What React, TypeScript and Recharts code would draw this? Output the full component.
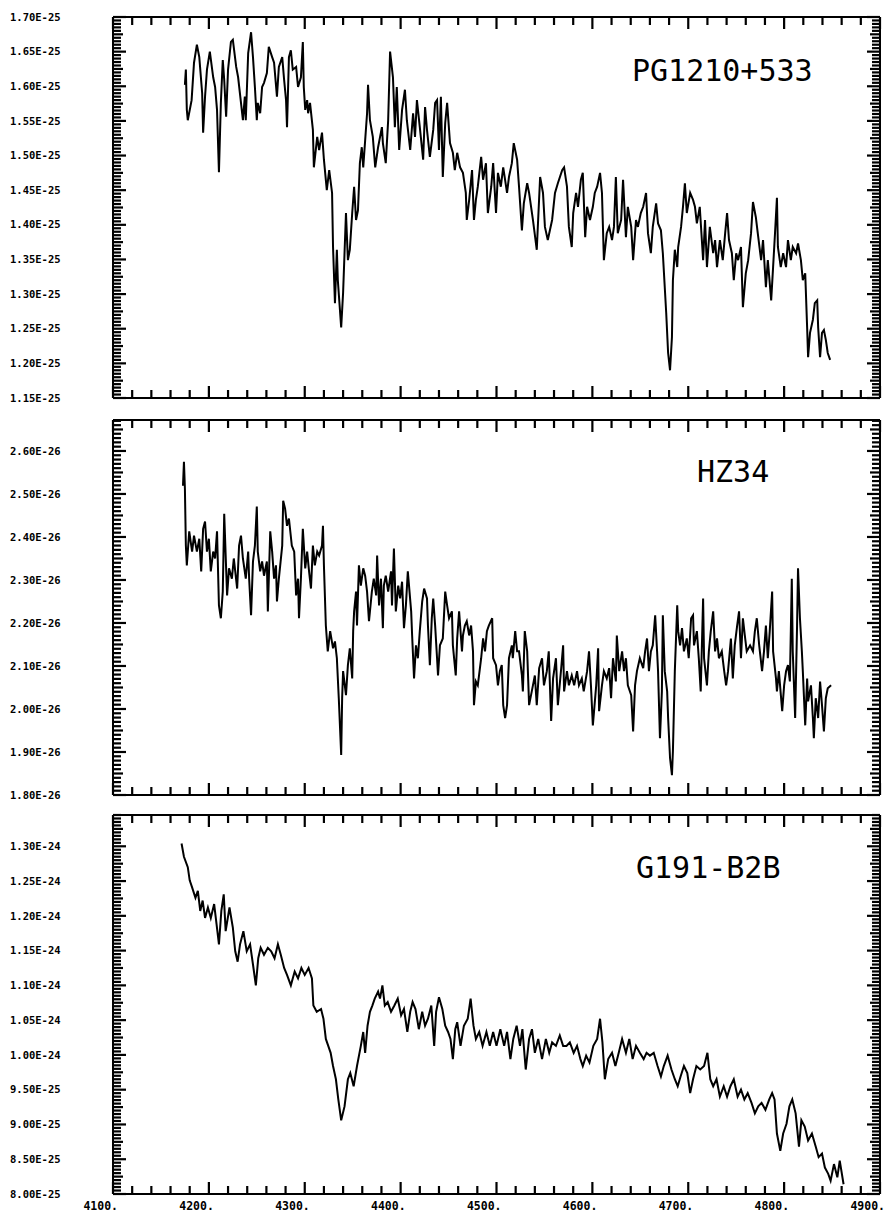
import React from 'react';
import { LineChart, Line, XAxis, YAxis, ReferenceLine } from 'recharts';

// ---------- axis ticks / labels ----------
const X_MAJOR = [4100, 4200, 4300, 4400, 4500, 4600, 4700, 4800, 4900];
const X_LABELS = ['4100.', '4200.', '4300.', '4400.', '4500.', '4600.', '4700.', '4800.', '4900.'];
const X_MINOR_STEP = 20;

const PG_TICKS = [1.15, 1.2, 1.25, 1.3, 1.35, 1.4, 1.45, 1.5, 1.55, 1.6, 1.65, 1.7];
const PG_LABELS = ['1.15E-25', '1.20E-25', '1.25E-25', '1.30E-25', '1.35E-25', '1.40E-25', '1.45E-25', '1.50E-25', '1.55E-25', '1.60E-25', '1.65E-25', '1.70E-25'];

const HZ_TICKS = [1.8, 1.9, 2.0, 2.1, 2.2, 2.3, 2.4, 2.5, 2.6];
const HZ_LABELS = ['1.80E-26', '1.90E-26', '2.00E-26', '2.10E-26', '2.20E-26', '2.30E-26', '2.40E-26', '2.50E-26', '2.60E-26'];

const G1_TICKS = [0.8, 0.85, 0.9, 0.95, 1.0, 1.05, 1.1, 1.15, 1.2, 1.25, 1.3];
const G1_LABELS = ['8.00E-25', '8.50E-25', '9.00E-25', '9.50E-25', '1.00E-24', '1.05E-24', '1.10E-24', '1.15E-24', '1.20E-24', '1.25E-24', '1.30E-24'];

// ---------- spectra: [wavelength (A), flux (in units of the panel's exponent)] ----------
// PG1210+533, flux x 1E-25
const PG1210: [number, number][] = [
  [4175, 1.602], [4176, 1.624], [4177, 1.566], [4178, 1.551], [4182, 1.58], [4184.5, 1.634], [4187.5, 1.66], [4190, 1.642],
  [4193, 1.59], [4194, 1.533], [4196, 1.585], [4198, 1.624], [4201, 1.65], [4204.5, 1.613], [4206.5, 1.599], [4208.5, 1.566],
  [4210.5, 1.476], [4212.5, 1.576], [4214.5, 1.638], [4216, 1.609], [4218, 1.556], [4220, 1.624], [4223, 1.664], [4225, 1.667],
  [4228.5, 1.628], [4230.5, 1.613], [4233.5, 1.576], [4235.5, 1.551], [4237.5, 1.585], [4238.5, 1.551], [4241, 1.648], [4244, 1.678],
  [4246, 1.642], [4248, 1.599], [4250, 1.551], [4251, 1.576], [4253.5, 1.561], [4255.5, 1.599], [4257.5, 1.605], [4260.5, 1.619],
  [4262.5, 1.657], [4266, 1.642], [4268, 1.634], [4271, 1.585], [4273, 1.628], [4276.5, 1.642], [4278.5, 1.609], [4280.5, 1.58],
  [4281.5, 1.541], [4283.5, 1.642], [4285.5, 1.652], [4287.5, 1.624], [4291, 1.628], [4293, 1.599], [4296, 1.613], [4298, 1.664],
  [4299, 1.599], [4300.5, 1.566], [4302.5, 1.58], [4303.5, 1.561], [4305.5, 1.576], [4308.5, 1.537], [4309.5, 1.483], [4313, 1.527],
  [4315, 1.508], [4318, 1.533], [4320, 1.494], [4323, 1.45], [4325.5, 1.479], [4328.5, 1.446], [4329.5, 1.368], [4331.5, 1.287],
  [4333.5, 1.364], [4334.5, 1.32], [4338, 1.252], [4340, 1.302], [4343, 1.417], [4345, 1.349], [4347, 1.364], [4349.5, 1.417],
  [4351.5, 1.455], [4353.5, 1.407], [4355.5, 1.421], [4357.5, 1.489], [4359.5, 1.512], [4361, 1.483], [4363, 1.522], [4365, 1.561],
  [4366, 1.602], [4368, 1.551], [4371, 1.527], [4373.5, 1.483], [4376.5, 1.512], [4380.5, 1.541], [4381.5, 1.518], [4384.5, 1.489],
  [4387, 1.551], [4389, 1.65], [4392, 1.613], [4394, 1.541], [4396, 1.599], [4398.5, 1.508], [4401.5, 1.566], [4404.5, 1.595],
  [4406.5, 1.551], [4410, 1.508], [4413, 1.561], [4415, 1.527], [4417, 1.58], [4420, 1.541], [4423.5, 1.494], [4425.5, 1.57],
  [4427.5, 1.537], [4430.5, 1.498], [4434, 1.537], [4436, 1.576], [4438, 1.58], [4440, 1.508], [4442, 1.585], [4444, 1.469],
  [4446.5, 1.547], [4448.5, 1.576], [4451.5, 1.518], [4454.5, 1.504], [4456.5, 1.479], [4459, 1.504], [4462, 1.483], [4465, 1.475],
  [4468, 1.446], [4469, 1.407], [4471.5, 1.436], [4474.5, 1.479], [4476.5, 1.407], [4478.5, 1.436], [4480.5, 1.455], [4484, 1.498],
  [4486, 1.465], [4489, 1.489], [4491, 1.417], [4494.5, 1.455], [4496.5, 1.489], [4499.5, 1.417], [4501.5, 1.475], [4504.5, 1.455],
  [4507, 1.483], [4511, 1.446], [4513, 1.469], [4516, 1.489], [4518, 1.518], [4521.5, 1.494], [4523.5, 1.455], [4526.5, 1.392],
  [4528.5, 1.431], [4532, 1.46], [4534, 1.446], [4538, 1.407], [4542, 1.364], [4545.5, 1.469], [4548.5, 1.446], [4550.5, 1.397],
  [4553.5, 1.378], [4558, 1.407], [4561, 1.446], [4564, 1.46], [4568.5, 1.479], [4570.5, 1.483], [4573.5, 1.455], [4575.5, 1.397],
  [4578.5, 1.368], [4580, 1.417], [4583, 1.446], [4585, 1.426], [4588, 1.465], [4590, 1.475], [4592.5, 1.382], [4594.5, 1.426],
  [4597.5, 1.407], [4600.5, 1.426], [4602.5, 1.446], [4605, 1.455], [4608, 1.475], [4610, 1.446], [4612, 1.349], [4615, 1.388],
  [4617.5, 1.397], [4620.5, 1.378], [4622.5, 1.397], [4624.5, 1.469], [4626.5, 1.388], [4630, 1.407], [4632, 1.465], [4635, 1.382],
  [4637, 1.426], [4640.5, 1.397], [4642.5, 1.349], [4645.5, 1.407], [4647.5, 1.397], [4650.5, 1.417], [4653, 1.426], [4656, 1.446],
  [4658, 1.388], [4661, 1.359], [4663, 1.397], [4666.5, 1.431], [4668.5, 1.402], [4671.5, 1.392], [4673.5, 1.359], [4677, 1.273],
  [4679, 1.215], [4681, 1.19], [4683, 1.238], [4684, 1.32], [4686, 1.364], [4688.5, 1.339], [4689.5, 1.368], [4692.5, 1.397],
  [4694.5, 1.426], [4696.5, 1.46], [4698.5, 1.417], [4702, 1.446], [4705, 1.436], [4707, 1.426], [4709, 1.402], [4712, 1.426],
  [4715.5, 1.349], [4717.5, 1.407], [4719.5, 1.339], [4722.5, 1.397], [4726, 1.359], [4728, 1.378], [4730, 1.339], [4733, 1.378],
  [4736, 1.349], [4738.5, 1.388], [4740.5, 1.417], [4742.5, 1.378], [4745.5, 1.359], [4747.5, 1.32], [4750, 1.359], [4752, 1.349],
  [4755, 1.368], [4757, 1.281], [4760, 1.33], [4762.5, 1.349], [4765.5, 1.388], [4767.5, 1.433], [4770.5, 1.411], [4772.5, 1.388],
  [4776, 1.349], [4778, 1.378], [4781, 1.31], [4783, 1.349], [4786.5, 1.291], [4788.5, 1.339], [4790.5, 1.388], [4792.5, 1.439],
  [4793.5, 1.368], [4796.5, 1.339], [4799, 1.359], [4802, 1.339], [4804, 1.378], [4807, 1.349], [4809, 1.368], [4812.5, 1.359],
  [4814.5, 1.373], [4817.5, 1.349], [4819.5, 1.32], [4822, 1.33], [4824, 1.252], [4825, 1.209], [4827, 1.244], [4830, 1.263],
  [4832, 1.287], [4834.5, 1.291], [4835.5, 1.252], [4837.5, 1.209], [4839.5, 1.244], [4841.5, 1.248], [4843.5, 1.234], [4845.5, 1.215],
  [4848, 1.205],
];

// HZ34, flux x 1E-26
const HZ34: [number, number][] = [
  [4173, 2.519], [4174, 2.575], [4175, 2.512], [4176, 2.38], [4177, 2.334], [4179.5, 2.413], [4182.5, 2.366], [4184.5, 2.403],
  [4187.5, 2.366], [4190, 2.396], [4192, 2.32], [4194, 2.419], [4196, 2.436], [4198, 2.366], [4200, 2.396], [4202, 2.32],
  [4204.5, 2.366], [4206.5, 2.35], [4208.5, 2.413], [4210.5, 2.241], [4212.5, 2.211], [4214.5, 2.273], [4216, 2.454], [4218, 2.327],
  [4219, 2.264], [4221, 2.327], [4224, 2.303], [4226, 2.35], [4229.5, 2.28], [4231.5, 2.38], [4233.5, 2.403], [4235.5, 2.35],
  [4238.5, 2.303], [4241, 2.366], [4242, 2.303], [4244, 2.218], [4246, 2.343], [4248, 2.38], [4250, 2.471], [4251, 2.366],
  [4253.5, 2.32], [4255.5, 2.343], [4257.5, 2.31], [4260.5, 2.343], [4261.5, 2.227], [4264, 2.413], [4266, 2.366], [4268, 2.303],
  [4270, 2.334], [4271, 2.25], [4273, 2.303], [4276.5, 2.38], [4277.5, 2.484], [4279.5, 2.466], [4281.5, 2.426], [4283.5, 2.443],
  [4286.5, 2.38], [4289, 2.366], [4291, 2.264], [4293, 2.303], [4294, 2.211], [4296, 2.303], [4298, 2.419], [4300.5, 2.327],
  [4302.5, 2.366], [4304.5, 2.32], [4306.5, 2.28], [4308.5, 2.38], [4310.5, 2.334], [4313, 2.366], [4315, 2.357], [4318, 2.38],
  [4319, 2.426], [4320, 2.334], [4322, 2.194], [4324, 2.134], [4326.5, 2.181], [4329.5, 2.141], [4331.5, 2.157], [4333.5, 2.118],
  [4335.5, 2.025], [4338, 1.893], [4339, 2.025], [4340, 2.088], [4343, 2.032], [4345, 2.102], [4347, 2.141], [4349.5, 2.071],
  [4350.5, 2.181], [4351.5, 2.227], [4353.5, 2.273], [4354.5, 2.194], [4356.5, 2.334], [4358.5, 2.287], [4361, 2.327], [4363, 2.31],
  [4365, 2.273], [4367, 2.204], [4370, 2.273], [4372, 2.303], [4374.5, 2.264], [4375.5, 2.357], [4377.5, 2.241], [4379.5, 2.303],
  [4381.5, 2.188], [4382.5, 2.287], [4384.5, 2.31], [4387, 2.273], [4390, 2.32], [4391, 2.241], [4393, 2.373], [4395, 2.227],
  [4397.5, 2.287], [4399.5, 2.257], [4401.5, 2.296], [4403.5, 2.188], [4405.5, 2.241], [4407.5, 2.32], [4411, 2.227], [4412, 2.171],
  [4414, 2.071], [4416, 2.148], [4418, 2.118], [4420, 2.181], [4422.5, 2.25], [4424.5, 2.28], [4427.5, 2.257], [4428.5, 2.194],
  [4430.5, 2.102], [4432.5, 2.211], [4434, 2.257], [4436, 2.194], [4438, 2.118], [4439, 2.078], [4441, 2.148], [4444, 2.164],
  [4446.5, 2.273], [4448.5, 2.241], [4450.5, 2.211], [4453.5, 2.227], [4454.5, 2.148], [4457.5, 2.078], [4459, 2.164], [4461, 2.227],
  [4464, 2.134], [4465, 2.171], [4467, 2.194], [4469, 2.204], [4471.5, 2.171], [4473.5, 2.194], [4475.5, 2.134], [4476.5, 2.009],
  [4478.5, 2.064], [4480.5, 2.055], [4484, 2.118], [4486, 2.164], [4488, 2.134], [4490, 2.181], [4492, 2.194], [4495.5, 2.211],
  [4496.5, 2.118], [4499.5, 2.102], [4501.5, 2.055], [4503.5, 2.088], [4505.5, 2.102], [4507, 2.009], [4509, 1.979], [4511, 2.009],
  [4513, 2.118], [4516, 2.148], [4517, 2.118], [4519.5, 2.181], [4521.5, 2.134], [4523.5, 2.134], [4526.5, 2.078], [4527.5, 2.041],
  [4529.5, 2.181], [4532, 2.134], [4534, 2.009], [4538, 2.055], [4540, 2.078], [4542, 2.009], [4544.5, 2.095], [4547.5, 2.118],
  [4549.5, 2.055], [4552.5, 2.088], [4554.5, 2.134], [4557, 1.972], [4559, 2.071], [4562, 2.118], [4564, 2.009], [4567.5, 2.095],
  [4569.5, 2.148], [4570.5, 2.041], [4573.5, 2.088], [4575.5, 2.055], [4578.5, 2.078], [4581, 2.055], [4584, 2.088], [4586, 2.055],
  [4589, 2.071], [4591, 2.041], [4594.5, 2.088], [4596.5, 2.134], [4598.5, 2.055], [4600.5, 1.962], [4604, 2.055], [4606, 2.141],
  [4607, 1.995], [4610, 2.055], [4612, 2.088], [4615, 2.071], [4617.5, 2.095], [4619.5, 2.025], [4621.5, 2.118], [4624.5, 2.064],
  [4625.5, 2.171], [4628, 2.088], [4631, 2.134], [4633, 2.088], [4635, 2.118], [4637, 2.055], [4640.5, 2.032], [4642.5, 1.948],
  [4644.5, 2.055], [4646.5, 2.088], [4649.5, 2.118], [4653, 2.095], [4655, 2.134], [4657, 2.164], [4659, 2.088], [4661, 2.134],
  [4663, 2.148], [4665.5, 2.218], [4667.5, 2.134], [4668.5, 2.088], [4670.5, 1.932], [4672.5, 2.041], [4673.5, 2.218], [4675.5, 2.088],
  [4678, 2.041], [4679, 1.979], [4681, 1.886], [4683, 1.846], [4684, 1.902], [4686, 2.088], [4688.5, 2.241], [4689.5, 2.181],
  [4691.5, 2.148], [4693.5, 2.188], [4695.5, 2.134], [4698.5, 2.164], [4700.5, 2.118], [4703, 2.211], [4705, 2.218], [4706, 2.148],
  [4709, 2.181], [4711, 2.118], [4713, 2.041], [4715.5, 2.257], [4716.5, 2.118], [4719.5, 2.055], [4721.5, 2.134], [4723.5, 2.181],
  [4726, 2.227], [4728, 2.134], [4730, 2.164], [4732, 2.118], [4735, 2.134], [4737.5, 2.088], [4739.5, 2.055], [4741.5, 2.088],
  [4744.5, 2.164], [4746.5, 2.071], [4748.5, 2.148], [4751, 2.194], [4753, 2.227], [4755, 2.118], [4757, 2.211], [4759, 2.171],
  [4761, 2.134], [4764.5, 2.148], [4767.5, 2.134], [4769.5, 2.181], [4771.5, 2.211], [4774, 2.148], [4777, 2.088], [4779, 2.134],
  [4781, 2.194], [4783, 2.118], [4785, 2.181], [4787.5, 2.273], [4788.5, 2.134], [4791.5, 2.071], [4792.5, 2.041], [4794.5, 2.088],
  [4798, 1.995], [4800, 2.055], [4802, 2.088], [4804, 2.102], [4806, 2.064], [4808, 2.303], [4809, 2.134], [4811.5, 1.979],
  [4813.5, 2.194], [4814.5, 2.327], [4816.5, 2.211], [4818.5, 2.134], [4819.5, 2.088], [4822, 1.962], [4824, 2.071], [4825, 2.018],
  [4828, 2.055], [4830, 1.979], [4831, 1.932], [4833, 2.025], [4835.5, 1.979], [4837.5, 2.064], [4839.5, 2.009], [4841.5, 1.948],
  [4843.5, 2.025], [4845.5, 2.048], [4849, 2.055],
];

// G191-B2B, flux x 1E-24
const G191: [number, number][] = [
  [4171.5, 1.304], [4174, 1.285], [4178, 1.27], [4180, 1.251], [4182.5, 1.241], [4186, 1.226], [4188.5, 1.236], [4191, 1.207],
  [4193.5, 1.222], [4196, 1.197], [4199, 1.212], [4202, 1.197], [4205.5, 1.217], [4208, 1.188], [4210.5, 1.159], [4213, 1.207],
  [4215.5, 1.231], [4217.5, 1.178], [4221.5, 1.212], [4225, 1.183], [4227.5, 1.149], [4230, 1.134], [4232.5, 1.159], [4236, 1.178],
  [4239.5, 1.149], [4243, 1.159], [4246, 1.13], [4249, 1.1], [4251.5, 1.139], [4254, 1.154], [4257.5, 1.144], [4261.5, 1.154],
  [4265, 1.149], [4268.5, 1.139], [4272, 1.159], [4275, 1.144], [4278.5, 1.125], [4281.5, 1.115], [4285.5, 1.1], [4289.5, 1.12],
  [4293, 1.11], [4296.5, 1.125], [4300, 1.115], [4304, 1.125], [4307.5, 1.11], [4309, 1.071], [4312.5, 1.062], [4317, 1.066],
  [4319.5, 1.052], [4322, 1.023], [4324.5, 1.013], [4327, 1.003], [4329.5, 0.984], [4332.5, 0.965], [4335, 0.936], [4338, 0.906],
  [4341.5, 0.926], [4345, 0.965], [4347.5, 0.974], [4351, 0.955], [4354.5, 0.984], [4358.5, 1.013], [4361, 1.033], [4363, 1.003],
  [4365.5, 1.042], [4368, 1.062], [4370.5, 1.071], [4373, 1.081], [4376.5, 1.091], [4378.5, 1.081], [4381, 1.1], [4383.5, 1.071],
  [4386.5, 1.076], [4390, 1.062], [4393.5, 1.071], [4397, 1.081], [4400.5, 1.057], [4403.5, 1.066], [4407, 1.033], [4410, 1.062],
  [4412.5, 1.076], [4415.5, 1.066], [4419, 1.037], [4422.5, 1.062], [4425.5, 1.042], [4428.5, 1.052], [4432, 1.071], [4435, 1.013],
  [4437, 1.062], [4440, 1.083], [4443.5, 1.066], [4446.5, 1.042], [4449.5, 1.033], [4452, 1.023], [4454.5, 0.994], [4457, 1.037],
  [4459, 1.047], [4462.5, 1.013], [4466, 1.042], [4470, 1.052], [4473, 1.081], [4476, 1.042], [4478.5, 1.023], [4482, 1.033],
  [4485.5, 1.013], [4489.5, 1.033], [4493, 1.013], [4496.5, 1.033], [4500, 1.013], [4504, 1.037], [4508, 1.013], [4511, 1.033],
  [4514.5, 0.994], [4517.5, 1.023], [4521, 1.042], [4524.5, 1.013], [4527, 1.037], [4530.5, 0.979], [4534, 1.023], [4537, 1.037],
  [4540, 1.003], [4543.5, 1.023], [4547.5, 0.994], [4551.5, 1.023], [4555, 1.003], [4558, 1.018], [4562, 1.013], [4566, 1.028],
  [4569.5, 1.013], [4573, 1.013], [4576.5, 1.018], [4580.5, 1.003], [4584, 1.013], [4587.5, 0.994], [4590, 0.984], [4593.5, 0.999],
  [4597, 0.989], [4601, 1.013], [4605, 1.023], [4608, 1.052], [4610.5, 1.018], [4613, 0.965], [4616.5, 0.994], [4620.5, 1.003],
  [4624, 0.984], [4627.5, 1.003], [4631, 1.023], [4635, 1.003], [4638.5, 1.023], [4642, 0.994], [4645.5, 1.013], [4649.5, 1.003],
  [4653.5, 0.994], [4656.5, 1.003], [4660, 0.999], [4664, 1.003], [4668, 0.984], [4671.5, 0.969], [4674.5, 0.984], [4678.5, 0.999],
  [4682.5, 0.979], [4686, 0.965], [4689, 0.955], [4692, 0.969], [4695.5, 0.984], [4699, 0.974], [4702, 0.945], [4705, 0.965],
  [4708.5, 0.984], [4712.5, 0.979], [4716.5, 0.984], [4720, 1.003], [4723, 0.965], [4726, 0.955], [4729.5, 0.965], [4733, 0.94],
  [4737, 0.955], [4740.5, 0.94], [4744, 0.955], [4747.5, 0.965], [4751.5, 0.94], [4755, 0.95], [4758.5, 0.936], [4762, 0.945],
  [4766, 0.931], [4769.5, 0.916], [4773, 0.926], [4776.5, 0.931], [4780.5, 0.921], [4784.5, 0.936], [4787.5, 0.945], [4790, 0.936],
  [4792.5, 0.887], [4796, 0.862], [4799, 0.887], [4802.5, 0.901], [4805.5, 0.926], [4808.5, 0.936], [4812, 0.916], [4815.5, 0.868],
  [4818, 0.906], [4821.5, 0.897], [4825, 0.877], [4829, 0.887], [4833, 0.868], [4836, 0.853], [4839.5, 0.858], [4842.5, 0.838],
  [4846, 0.829], [4848.5, 0.819], [4852, 0.843], [4855.5, 0.824], [4858, 0.848], [4862, 0.814],
];

// ---------- layout ----------
const W = 886;
const PLOT_LEFT = 113;
const PLOT_RIGHT = 880;
const Y_AXIS_W = 105;
const X_AXIS_H = 30;
const TOP_PAD = 10;
const FONT = "'DejaVu Sans Mono', 'Liberation Mono', monospace";
const X0 = X_MAJOR[0];
const X1 = X_MAJOR[X_MAJOR.length - 1];
const PX_PER_A = (PLOT_RIGHT - PLOT_LEFT) / (X1 - X0);

const xTicksAll: number[] = [];
for (let v = X0; v <= X1; v += X_MINOR_STEP) xTicksAll.push(v);

interface PanelProps {
  data: [number, number][];
  domain: [number, number];
  majors: number[];
  labels: string[];
  minorPerMajor: number;
  plotTop: number;
  plotBottom: number;
  showXLabels: boolean;
  title: string;
  titleX: number;
  titleY: number;
}

function Panel(p: PanelProps) {
  const rows = p.data.map(([w, f]) => ({ w, f }));
  const divTop = p.plotTop - TOP_PAD;
  const H = p.plotBottom - p.plotTop + TOP_PAD + X_AXIS_H;
  const botC = TOP_PAD + (p.plotBottom - p.plotTop);
  const [d0, d1] = p.domain;
  const pxPerUnit = (p.plotBottom - p.plotTop) / (d1 - d0);
  const minorStep = (p.majors[1] - p.majors[0]) / p.minorPerMajor;

  // frame tick marks, drawn through the chart's own scales
  const segs: React.ReactElement[] = [];
  const nMinor = Math.floor((d1 - d0) / minorStep + 1e-6);
  for (let i = 0; i <= nMinor; i++) {
    const v = d0 + i * minorStep;
    const major = i % p.minorPerMajor === 0;
    const half = i % (p.minorPerMajor / 2) === 0;
    const len = (major ? 13 : half ? 10 : 8) / PX_PER_A;
    segs.push(
      <ReferenceLine key={'yl' + i} segment={[{ x: X0, y: v }, { x: X0 + len, y: v }]} stroke="#000" strokeWidth={2.2} ifOverflow="extendDomain" />,
      <ReferenceLine key={'yr' + i} segment={[{ x: X1 - len, y: v }, { x: X1, y: v }]} stroke="#000" strokeWidth={2.2} ifOverflow="extendDomain" />
    );
  }
  xTicksAll.forEach((v, i) => {
    const len = (X_MAJOR.indexOf(v) >= 0 ? 12 : 8) / pxPerUnit;
    segs.push(
      <ReferenceLine key={'xb' + i} segment={[{ x: v, y: d0 }, { x: v, y: d0 + len }]} stroke="#000" strokeWidth={2.2} ifOverflow="extendDomain" />,
      <ReferenceLine key={'xt' + i} segment={[{ x: v, y: d1 - len }, { x: v, y: d1 }]} stroke="#000" strokeWidth={2.2} ifOverflow="extendDomain" />
    );
  });

  const renderXTick = (t: any) => {
    const v = t.payload.value;
    const mi = X_MAJOR.indexOf(v);
    if (!p.showXLabels || mi < 0) return <g />;
    return (
      <text x={Math.min(t.x + 5, W - 1)} y={botC + 16} textAnchor="end" fontFamily={FONT} fontWeight="bold" fontSize={11.5} fill="#000">
        {X_LABELS[mi]}
      </text>
    );
  };

  const renderYTick = (t: any) => {
    const v = t.payload.value;
    const mi = p.majors.findIndex((m) => Math.abs(m - v) < 1e-6);
    if (mi < 0) return <g />;
    return (
      <text x={10} y={t.y} dy="0.35em" textAnchor="start" fontFamily={FONT} fontWeight="bold" fontSize={10.5} fill="#000">
        {p.labels[mi]}
      </text>
    );
  };

  return (
    <div style={{ position: 'absolute', left: 0, top: divTop, width: W, height: H }}>
      <LineChart width={W} height={H} data={rows} margin={{ top: TOP_PAD, right: W - PLOT_RIGHT, bottom: 0, left: PLOT_LEFT - Y_AXIS_W }}>
        <XAxis
          dataKey="w"
          type="number"
          domain={[X0, X1]}
          ticks={X_MAJOR}
          interval={0}
          tick={renderXTick}
          tickLine={false}
          axisLine={false}
          height={X_AXIS_H}
          allowDataOverflow
        />
        <YAxis
          type="number"
          domain={p.domain}
          ticks={p.majors}
          interval={0}
          tick={renderYTick}
          tickLine={false}
          axisLine={false}
          width={Y_AXIS_W}
          allowDataOverflow
        />
        <ReferenceLine x={X0} stroke="#000" strokeWidth={2} ifOverflow="visible" />
        <ReferenceLine x={X1} stroke="#000" strokeWidth={2} ifOverflow="visible" />
        <ReferenceLine y={d0} stroke="#000" strokeWidth={2} ifOverflow="visible" />
        <ReferenceLine y={d1} stroke="#000" strokeWidth={2} ifOverflow="visible" />
        {segs}
        <Line
          dataKey="f"
          type="linear"
          stroke="#000"
          strokeWidth={2}
          dot={false}
          activeDot={false}
          isAnimationActive={false}
        />
      </LineChart>
      <div
        style={{
          position: 'absolute',
          left: p.titleX,
          top: p.titleY - divTop,
          fontFamily: FONT,
          fontSize: 30,
          lineHeight: '30px',
          color: '#000',
          whiteSpace: 'nowrap',
        }}
      >
        {p.title}
      </div>
    </div>
  );
}

export default function App() {
  return (
    <div style={{ position: 'absolute', left: 0, top: 0, width: W, height: 1222, background: '#fff' }}>
      <Panel
        data={PG1210}
        domain={[1.15, 1.7]}
        majors={PG_TICKS}
        labels={PG_LABELS}
        minorPerMajor={10}
        plotTop={17}
        plotBottom={398}
        showXLabels={false}
        title="PG1210+533"
        titleX={632}
        titleY={56}
      />
      <Panel
        data={HZ34}
        domain={[1.8, 2.672]}
        majors={HZ_TICKS}
        labels={HZ_LABELS}
        minorPerMajor={10}
        plotTop={420}
        plotBottom={795}
        showXLabels={false}
        title="HZ34"
        titleX={697}
        titleY={457}
      />
      <Panel
        data={G191}
        domain={[0.8, 1.345]}
        majors={G1_TICKS}
        labels={G1_LABELS}
        minorPerMajor={10}
        plotTop={815}
        plotBottom={1194}
        showXLabels={true}
        title="G191-B2B"
        titleX={636}
        titleY={853}
      />
    </div>
  );
}
